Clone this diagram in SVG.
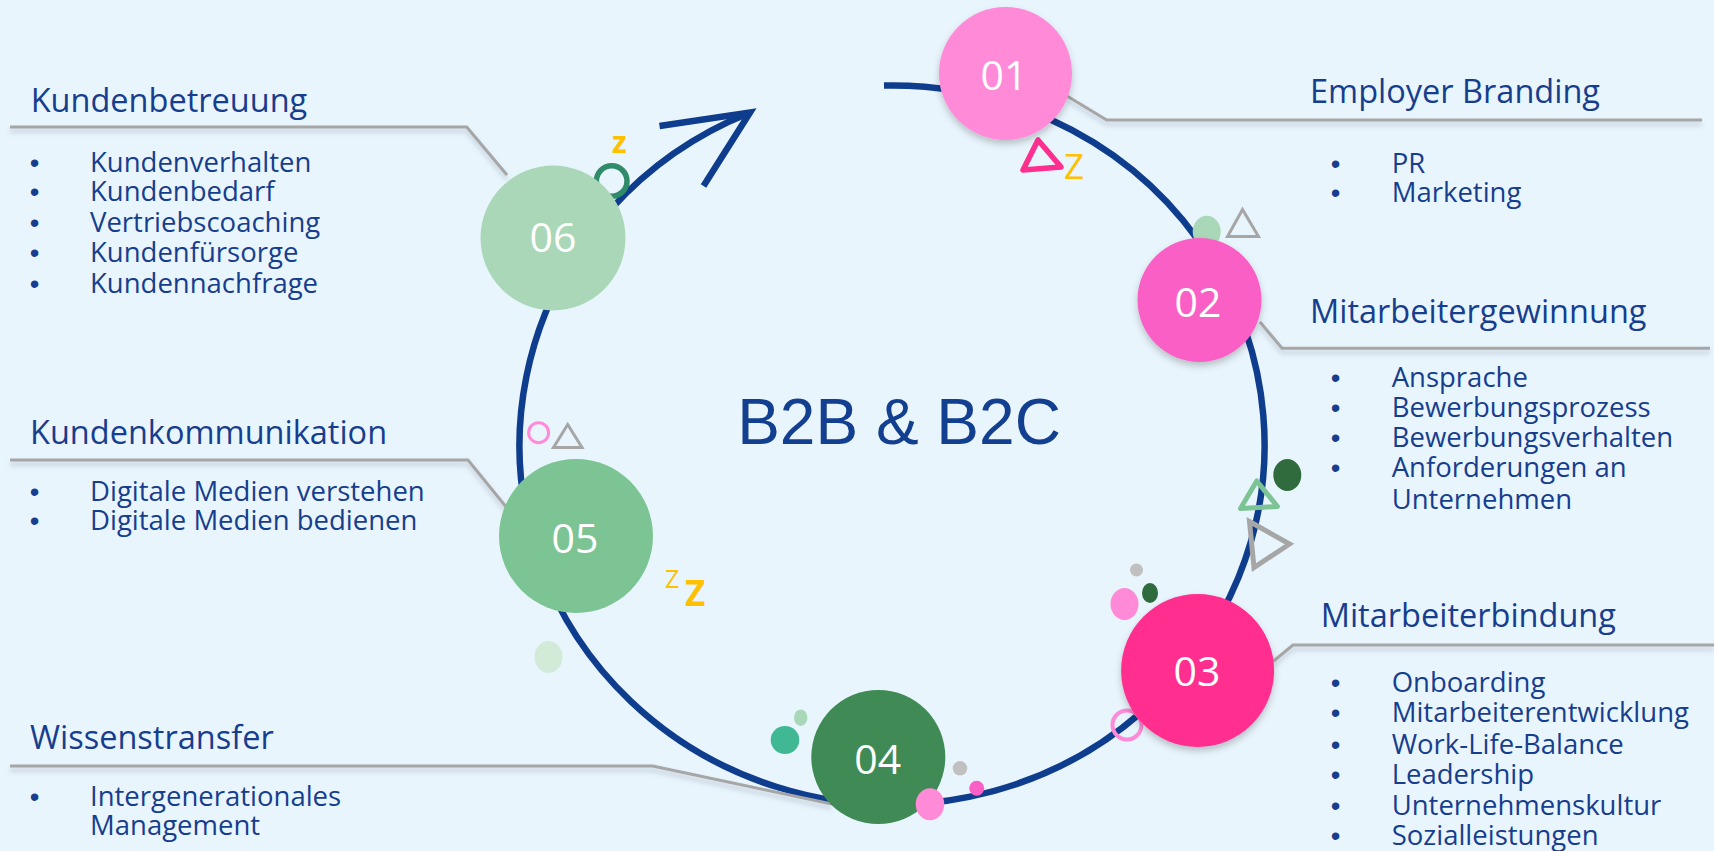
<svg xmlns="http://www.w3.org/2000/svg" width="1714" height="851" viewBox="0 0 1714 851">
  <defs>
    <filter id="shadow" x="-30%" y="-30%" width="160%" height="170%">
      <feDropShadow dx="0" dy="4" stdDeviation="3.5" flood-color="#000" flood-opacity="0.22"/>
    </filter>
    <filter id="lineShadow" x="-5%" y="-50%" width="110%" height="300%">
      <feDropShadow dx="0" dy="4" stdDeviation="2.5" flood-color="#6a7a8a" flood-opacity="0.35"/>
    </filter>
  </defs>
  <style>
    .head { font-family: "Open Sans", "Liberation Sans", sans-serif; font-size: 32.5px; fill: #173E8E; }
    .item { font-family: "Open Sans", "Liberation Sans", sans-serif; font-size: 27.5px; fill: #173E8E; }
    .b { font-family: "Liberation Sans", Arial, sans-serif; }
    .num { font-family: "Open Sans", "Liberation Sans", sans-serif; font-size: 41px; fill: #FFFFFF; text-anchor: middle; }
    .leader { fill: none; stroke: #A6A6A6; stroke-width: 3; filter: url(#lineShadow); }
    .ring { fill: none; stroke: #0F3D8E; stroke-width: 6.5; }
    .zz { font-family: "Open Sans", "Liberation Sans", sans-serif; fill: #FFC000; }
  </style>
  <rect x="0" y="0" width="1714" height="851" fill="#E9F5FD"/>

  <g id="connectors">
    <path class="ring" d="M 884 85.5 A 372.5 359.6 0 1 1 749 113"/>
    <polyline class="ring" points="659.5,126 750,112.5 703.5,186"/>
    <polyline class="leader" points="1067,96 1106.7,120 1702,120"/>
    <polyline class="leader" points="1260,322 1282,348.3 1710,348.3"/>
    <polyline class="leader" points="1273.6,661 1293,645 1714,645"/>
    <polyline class="leader" points="831.7,804 652.7,766 10,766"/>
    <polyline class="leader" points="507,508 468,460 10,460"/>
    <polyline class="leader" points="507,175 466.7,127 10,127"/>
  </g>

  <g id="decor">
    <circle cx="611.7" cy="181" r="15.3" fill="none" stroke="#2F8B6A" stroke-width="5.5"/>
    <text class="zz" x="612" y="153" font-size="30" font-weight="bold">z</text>
    <polygon points="1038,140 1023,170 1061,167" fill="none" stroke="#FF2F8F" stroke-width="5.5" stroke-linejoin="round"/>
    <text class="zz" x="1064" y="179" font-size="35">Z</text>
    <ellipse cx="1206.7" cy="231.7" rx="14" ry="16" fill="#A9D8B8"/>
    <ellipse cx="1218.8" cy="258" rx="6" ry="8" fill="#A9D8B8"/>
    <polygon points="1242.5,209.5 1227.5,236.5 1258.5,236.5" fill="none" stroke="#A6A6A6" stroke-width="3"/>
    <ellipse cx="1287.3" cy="475" rx="14" ry="16" fill="#2F6B3D"/>
    <polygon points="1256.7,481 1240.5,508.5 1277.5,506.5" fill="none" stroke="#7DC495" stroke-width="5" stroke-linejoin="round"/>
    <polygon points="1249.5,521.5 1289.5,544 1254,567.5" fill="none" stroke="#A6A6A6" stroke-width="5"/>
    <circle cx="1136.5" cy="570" r="6.5" fill="#C0C0C0"/>
    <ellipse cx="1124.5" cy="604" rx="14" ry="16" fill="#FF8AD8"/>
    <ellipse cx="1150" cy="593" rx="8" ry="10" fill="#2F6B3D"/>
    <circle cx="1127" cy="725" r="14.5" fill="none" stroke="#FF8AD8" stroke-width="4"/>
    <circle cx="538.6" cy="432.7" r="10" fill="none" stroke="#FF8AD8" stroke-width="3"/>
    <polygon points="567.7,424.5 553.5,447.5 582,447.5" fill="none" stroke="#A6A6A6" stroke-width="3"/>
    <text class="zz" x="665" y="588" font-size="25">Z</text>
    <text class="zz" x="685" y="606" font-size="35" font-weight="bold">Z</text>
    <ellipse cx="548.5" cy="657" rx="14" ry="16" fill="#D2EBD9"/>
    <ellipse cx="800.7" cy="717.7" rx="6.7" ry="8.3" fill="#A9D8B8"/>
    <ellipse cx="785" cy="740" rx="14.3" ry="14" fill="#40B894"/>
    <circle cx="960" cy="768.3" r="7.3" fill="#C0C0C0"/>
    <circle cx="976.7" cy="788.3" r="7.5" fill="#FA5FC5"/>
  </g>

  <g id="center-label">
    <text x="899" y="444" font-family="Liberation Sans, Arial, sans-serif" font-size="64" fill="#123F8F" text-anchor="middle">B2B &amp; B2C</text>
  </g>

  <g id="node-01">
    <circle cx="1005.5" cy="73.5" r="66.5" fill="#FF8AD8" filter="url(#shadow)"/>
    <text class="num" x="1004" y="89.5">01</text>
    <text class="head" x="1310" y="103.3">Employer Branding</text>
    <text class="item"><tspan class="b" x="1330.7" y="172.7">•</tspan><tspan x="1391.7">PR</tspan><tspan class="b" x="1330.7" y="201.7">•</tspan><tspan x="1391.7">Marketing</tspan></text>
  </g>

  <g id="node-02">
    <circle cx="1199.5" cy="300" r="62" fill="#FA5FC5" filter="url(#shadow)"/>
    <text class="num" x="1198" y="316.5">02</text>
    <text class="head" x="1310" y="322.7">Mitarbeitergewinnung</text>
    <text class="item"><tspan class="b" x="1330.7" y="386.7">•</tspan><tspan x="1391.7">Ansprache</tspan><tspan class="b" x="1330.7" y="416.7">•</tspan><tspan x="1391.7">Bewerbungsprozess</tspan><tspan class="b" x="1330.7" y="447.3">•</tspan><tspan x="1391.7">Bewerbungsverhalten</tspan><tspan class="b" x="1330.7" y="476.7">•</tspan><tspan x="1391.7">Anforderungen an</tspan><tspan x="1391.7" y="509.3">Unternehmen</tspan></text>
  </g>

  <g id="node-03">
    <circle cx="1197.6" cy="670.5" r="76.5" fill="#FF2F8F" filter="url(#shadow)"/>
    <text class="num" x="1197" y="686">03</text>
    <text class="head" x="1320.7" y="627.3">Mitarbeiterbindung</text>
    <text class="item"><tspan class="b" x="1330.7" y="691.7">•</tspan><tspan x="1391.7">Onboarding</tspan><tspan class="b" x="1330.7" y="722.3">•</tspan><tspan x="1391.7">Mitarbeiterentwicklung</tspan><tspan class="b" x="1330.7" y="753.5">•</tspan><tspan x="1391.7">Work-Life-Balance</tspan><tspan class="b" x="1330.7" y="783.5">•</tspan><tspan x="1391.7">Leadership</tspan><tspan class="b" x="1330.7" y="814.5">•</tspan><tspan x="1391.7">Unternehmenskultur</tspan><tspan class="b" x="1330.7" y="845">•</tspan><tspan x="1391.7">Sozialleistungen</tspan></text>
  </g>

  <g id="node-04">
    <circle cx="878.3" cy="757" r="67" fill="#3F8A55"/>
    <ellipse cx="930" cy="804.3" rx="14.3" ry="16" fill="#FF8AD8"/>
    <text class="num" x="877.8" y="774">04</text>
    <text class="head" x="30" y="749">Wissenstransfer</text>
    <text class="item"><tspan class="b" x="29.7" y="806">•</tspan><tspan x="90">Intergenerationales</tspan><tspan x="90" y="835">Management</tspan></text>
  </g>

  <g id="node-05">
    <circle cx="576" cy="536" r="77" fill="#7DC495"/>
    <text class="num" x="575" y="552.5">05</text>
    <text class="head" x="30" y="444.3">Kundenkommunikation</text>
    <text class="item"><tspan class="b" x="29.7" y="501">•</tspan><tspan x="90">Digitale Medien verstehen</tspan><tspan class="b" x="29.7" y="529.5">•</tspan><tspan x="90">Digitale Medien bedienen</tspan></text>
  </g>

  <g id="node-06">
    <circle cx="553" cy="238" r="72.5" fill="#A9D7B7"/>
    <text class="num" x="553" y="251.5">06</text>
    <text class="head" x="30.7" y="112.3">Kundenbetreuung</text>
    <text class="item"><tspan class="b" x="29.7" y="171.7">•</tspan><tspan x="90">Kundenverhalten</tspan><tspan class="b" x="29.7" y="200.5">•</tspan><tspan x="90">Kundenbedarf</tspan><tspan class="b" x="29.7" y="232">•</tspan><tspan x="90">Vertriebscoaching</tspan><tspan class="b" x="29.7" y="262">•</tspan><tspan x="90">Kundenfürsorge</tspan><tspan class="b" x="29.7" y="292.5">•</tspan><tspan x="90">Kundennachfrage</tspan></text>
  </g>
</svg>
